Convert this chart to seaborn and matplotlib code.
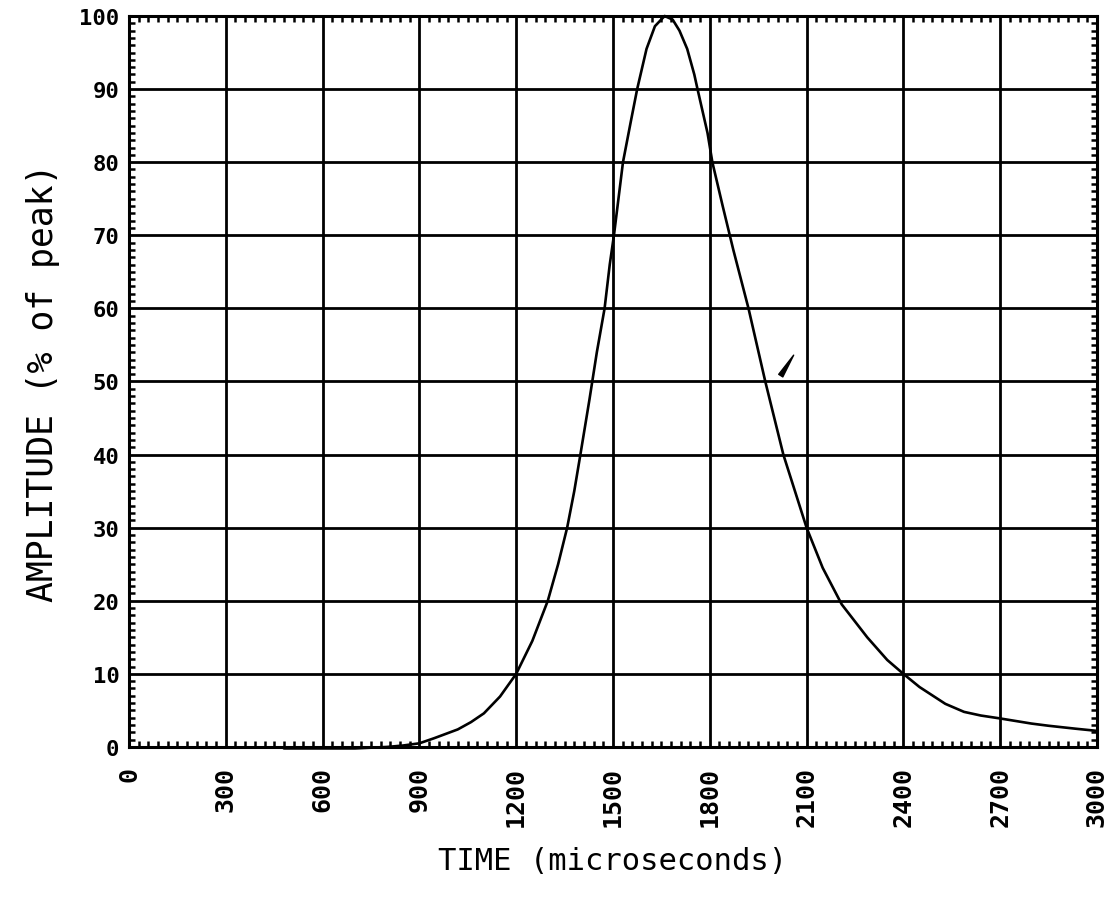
import matplotlib
matplotlib.use("Agg")
import matplotlib.pyplot as plt
import seaborn as sns
import pandas as pd
from matplotlib.ticker import MultipleLocator, FixedLocator

# ---- data ----
time_us = [480, 600, 700, 800, 850, 900, 946, 1019, 1060, 1100, 1150, 1200,
           1250, 1298, 1330, 1358, 1380, 1399, 1427, 1450, 1474, 1490, 1503,
           1531, 1555, 1575, 1604, 1630, 1660, 1685, 1706, 1730, 1752, 1762,
           1793, 1808, 1840, 1873, 1920, 1972, 2028, 2100, 2150, 2209, 2288,
           2350, 2400, 2450, 2530, 2588, 2640, 2700, 2797, 2850, 2933, 3000]
amplitude = [-0.2, -0.2, -0.2, 0.0, 0.2, 0.5, 1.2, 2.4, 3.4, 4.6, 6.9, 10.0,
             14.5, 20.0, 25.0, 30.0, 35.0, 40.0, 47.5, 54.0, 60.0, 66.0, 70.0,
             80.0, 85.5, 90.0, 95.5, 98.6, 100.0, 99.5, 98.0, 95.5, 92.0, 90.0,
             84.0, 80.0, 74.0, 68.0, 60.0, 50.0, 40.0, 30.0, 24.5, 19.5, 15.0,
             11.9, 10.0, 8.2, 5.9, 4.8, 4.3, 3.9, 3.2, 2.9, 2.5, 2.2]
x_ticks = [0, 300, 600, 900, 1200, 1500, 1800, 2100, 2400, 2700, 3000]
x_tick_labels = ["0", "300", "600", "900", "1200", "1500", "1800", "2100",
                 "2400", "2700", "3000"]
y_ticks = [0, 10, 20, 30, 40, 50, 60, 70, 80, 90, 100]
y_tick_labels = ["0", "10", "20", "30", "40", "50", "60", "70", "80", "90", "100"]
x_label = "TIME (microseconds)"
y_label = "AMPLITUDE (% of peak)"
# small slanted mark near the falling edge
mark_start = (2020, 50.8)
mark_end = (2060, 53.6)

df = pd.DataFrame({"time": time_us, "amp": amplitude})

sns.set_style("white")
plt.rcParams["font.family"] = ["DejaVu Sans Mono", "DejaVu Sans"]
plt.rcParams["text.color"] = "black"
plt.rcParams["axes.labelcolor"] = "black"
plt.rcParams["xtick.color"] = "black"
plt.rcParams["ytick.color"] = "black"

fig = plt.figure(figsize=(11.14, 9.03), dpi=100)
ax = fig.add_axes([0.1158, 0.1717, 0.8689, 0.8095])

ax.set_xlim(0, 3000)
ax.set_ylim(0, 100)

ax.xaxis.set_major_locator(FixedLocator(x_ticks))
ax.yaxis.set_major_locator(FixedLocator(y_ticks))
ax.set_xticklabels(x_tick_labels, rotation=90, fontsize=18, fontweight="bold")
ax.set_yticklabels(y_tick_labels, fontsize=16, fontweight="bold")
ax.xaxis.set_minor_locator(MultipleLocator(30))
ax.yaxis.set_minor_locator(MultipleLocator(1))

ax.grid(True, which="major", color="black", linewidth=2.0)
ax.set_axisbelow(True)

ax.tick_params(which="major", length=0, pad=14, direction="in",
               colors="black")
ax.tick_params(axis="y", which="major", pad=7)
ax.tick_params(which="minor", direction="in", length=4, width=1.8,
               top=True, bottom=True, left=True, right=True, color="black")

for s in ax.spines.values():
    s.set_color("black")
    s.set_linewidth(2.2)

sns.lineplot(data=df, x="time", y="amp", ax=ax, color="black",
             linewidth=1.9, estimator=None, sort=False, clip_on=False)

ax.annotate("", xy=mark_end, xytext=mark_start,
            arrowprops=dict(arrowstyle="wedge,tail_width=0.35",
                            color="black", shrinkA=0, shrinkB=0))

ax.set_xlabel(x_label, fontsize=22, labelpad=14, color="black")
ax.set_ylabel(y_label, fontsize=25, labelpad=14, color="black")

fig.savefig("out.png", dpi=100)
